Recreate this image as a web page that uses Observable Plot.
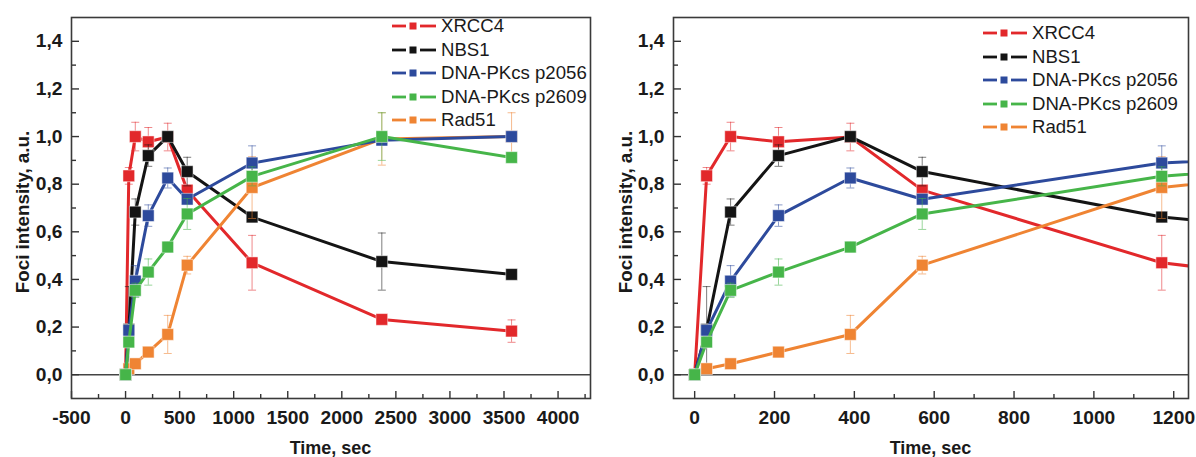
<!DOCTYPE html>
<html><head><meta charset="utf-8">
<script src="https://cdn.jsdelivr.net/npm/d3@7"></script>
<script src="https://cdn.jsdelivr.net/npm/@observablehq/plot@0.6"></script>
<style>
body{margin:0;background:#fff;font-family:"Liberation Sans",Arial,sans-serif;}
#wrap{position:relative;width:1196px;height:457px;overflow:hidden;background:#fff;}
.panel{position:absolute;top:0;}
.lab{position:absolute;font-weight:bold;white-space:nowrap;color:#1a1a1a;}
.ylab{font-size:18.8px;line-height:15px;transform:translate(-50%,-50%) rotate(-90deg);}
.xlab{font-size:18px;line-height:14px;transform:translate(-50%,-50%);}
.leg{position:absolute;font-size:18.6px;line-height:1;white-space:nowrap;color:#1a1a1a;}
.leg svg{position:absolute;top:-7px;}
.leg span{position:absolute;top:0;transform:translateY(-50%);}
</style>
</head><body>
<div id="wrap"></div>
<script>
// ---- data ----
const times = [0, 30, 90, 210, 390, 570, 1170, 2370, 3570];
const seriesNames = ["XRCC4", "NBS1", "DNA-PKcs p2056", "DNA-PKcs p2609", "Rad51"];
const seriesColors = ["#e2282b", "#141414", "#2d4a9c", "#46b549", "#ef8433"];
const xrcc4 =    [0, 0.835, 1.000, 0.978, 0.998, 0.775, 0.470, 0.232, 0.183];
const xrcc4Err = [0, 0.035, 0.060, 0.060, 0.058, 0.020, 0.115, 0.015, 0.047];
const nbs1 =     [0, 0.190, 0.683, 0.920, 1.000, 0.853, 0.662, 0.475, 0.421];
const nbs1Err =  [0, 0.180, 0.055, 0.045, 0.020, 0.060, 0.020, 0.120, 0.010];
const p2056 =    [0, 0.186, 0.393, 0.668, 0.826, 0.737, 0.889, 0.985, 1.000];
const p2056Err = [0, 0.020, 0.065, 0.045, 0.042, 0.020, 0.072, 0.020, 0.020];
const p2609 =    [0, 0.137, 0.354, 0.431, 0.536, 0.675, 0.833, 1.000, 0.912];
const p2609Err = [0, 0.020, 0.030, 0.055, 0.022, 0.065, 0.040, 0.100, 0.010];
const rad51 =    [0, 0.025, 0.046, 0.095, 0.169, 0.460, 0.786, 0.990, 1.000];
const rad51Err = [0, 0.010, 0.010, 0.010, 0.080, 0.037, 0.130, 0.110, 0.100];
const drawOrder = [0, 1, 4, 2, 3];

// left panel ticks
const leftXMajor = [-500, 0, 500, 1000, 1500, 2000, 2500, 3000, 3500, 4000];
const leftXMinor = [-250, 250, 750, 1250, 1750, 2250, 2750, 3250, 3750, 4250];
// right panel ticks
const rightXMajor = [0, 200, 400, 600, 800, 1000, 1200];
const rightXMinor = [100, 300, 500, 700, 900, 1100];
const yMajor = [0, 0.2, 0.4, 0.6, 0.8, 1.0, 1.2, 1.4];
const yMinor = [0.1, 0.3, 0.5, 0.7, 0.9, 1.1, 1.3];

const values = [xrcc4, nbs1, p2056, p2609, rad51];
const errors = [xrcc4Err, nbs1Err, p2056Err, p2609Err, rad51Err];
const rows = [];
seriesNames.forEach((s, i) => times.forEach((t, j) =>
  rows.push({series: s, idx: i, t, v: values[i][j], err: errors[i][j]})));

const capSymbol = {draw(ctx) { ctx.moveTo(-4, 0); ctx.lineTo(4, 0); }};
const yFmt = d => d.toFixed(1).replace(".", ",");

function seriesMarks() {
  const marks = [];
  for (const i of drawOrder) {
    const data = rows.filter(d => d.idx === i);
    const eb = data.filter(d => d.err > 0);
    const c = seriesColors[i];
    marks.push(
      Plot.line(data, {x: "t", y: "v", stroke: c, strokeWidth: 3, clip: true}),
      Plot.ruleX(eb, {x: "t", y1: d => d.v - d.err, y2: d => d.v + d.err, stroke: c, strokeOpacity: 0.55, strokeWidth: 1, clip: true}),
      Plot.dot(eb, {x: "t", y: d => d.v + d.err, symbol: capSymbol, stroke: c, strokeOpacity: 0.55, strokeWidth: 1, fill: "none", clip: true}),
      Plot.dot(eb, {x: "t", y: d => d.v - d.err, symbol: capSymbol, stroke: c, strokeOpacity: 0.55, strokeWidth: 1, fill: "none", clip: true}),
      Plot.dot(data, {x: "t", y: "v", symbol: "square", r: 6.6, fill: c, stroke: "white", strokeWidth: 0.8, strokeOpacity: 0.6, clip: true})
    );
  }
  return marks;
}

function panel(xDomain, xMajor, xMinor, marginLeft) {
  const W = 598, H = 457, mT = 17, mB = 59, mR = 8;
  const innerH = H - mT - mB, innerW = W - marginLeft - mR;
  const tk = {stroke: "#333", strokeWidth: 1.4};
  return Plot.plot({
    width: W, height: H,
    marginLeft, marginRight: mR, marginTop: mT, marginBottom: mB,
    style: {fontFamily: "'Liberation Sans', Arial, sans-serif", color: "#1a1a1a", background: "white"},
    x: {domain: xDomain},
    y: {domain: [-0.1, 1.5]},
    marks: [
      Plot.ruleY([0], {stroke: "#444", strokeWidth: 1.4}),
      ...seriesMarks(),
      // inward ticks
      Plot.tickX(xMajor, {x: d => d, insetTop: innerH - 7, ...tk}),
      Plot.tickX(xMinor, {x: d => d, insetTop: innerH - 4, ...tk}),
      Plot.tickY(yMajor, {y: d => d, insetRight: innerW - 8, ...tk}),
      Plot.tickY(yMinor, {y: d => d, insetRight: innerW - 5, ...tk}),
      Plot.axisX(xMajor, {anchor: "bottom", tickSize: 0, tickPadding: 12, tickFormat: d => String(d), fontSize: 19.2, fontWeight: "bold", label: null}),
      Plot.axisY(yMajor, {anchor: "left", tickSize: 0, tickPadding: 9, tickFormat: yFmt, fontSize: 19.2, fontWeight: "bold", label: null}),
      Plot.frame({stroke: "#3a3a3a", strokeWidth: 1.6})
    ]
  });
}

const wrap = document.getElementById("wrap");
function place(el, left) { el.classList.add("panel"); el.style.left = left + "px"; wrap.appendChild(el); }
place(panel([-500, 4300], leftXMajor, leftXMinor, 71), 0);
place(panel([-53, 1237], rightXMajor, rightXMinor, 75), 598);

function label(text, cls, x, y) {
  const d = document.createElement("div");
  d.className = "lab " + cls; d.textContent = text;
  d.style.left = x + "px"; d.style.top = y + "px";
  wrap.appendChild(d);
}
label("Foci intensity, a.u.", "ylab", 21.5, 212);
label("Foci intensity, a.u.", "ylab", 624.5, 212);
label("Time, sec", "xlab", 330.5, 448);
label("Time, sec", "xlab", 930.5, 448);

function legend(x0, y0, step) {
  seriesNames.forEach((s, i) => {
    const row = document.createElement("div");
    row.className = "leg";
    row.style.left = x0 + "px"; row.style.top = (y0 + i * step) + "px";
    const c = seriesColors[i];
    row.innerHTML = `<svg width="44" height="14" style="left:0"><line x1="0" x2="14" y1="7" y2="7" stroke="${c}" stroke-width="2.8"/><rect x="17.5" y="3.5" width="7" height="7" fill="${c}"/><line x1="28" x2="44" y1="7" y2="7" stroke="${c}" stroke-width="2.8"/></svg><span style="left:49px">${s}</span>`;
    wrap.appendChild(row);
  });
}
legend(392, 26, 23.6);
legend(983, 33, 23.5);
</script>
</body></html>
